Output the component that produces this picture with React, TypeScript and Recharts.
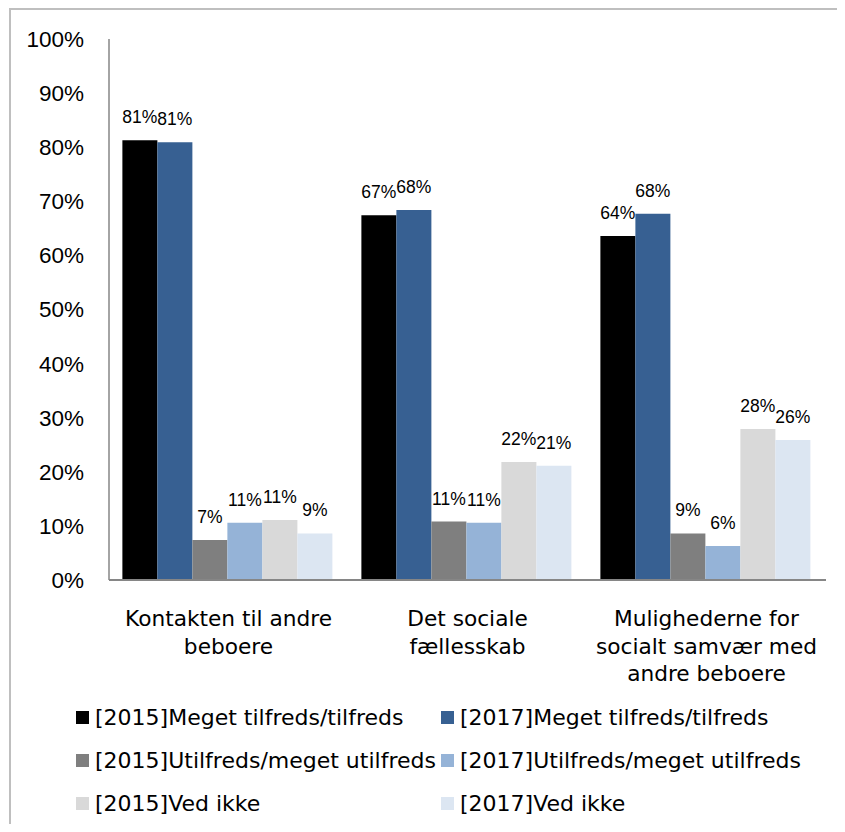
import { Bar, BarChart, LabelList, XAxis, YAxis } from "recharts"

const categories = [
  "Kontakten til andre\nbeboere",
  "Det sociale\nfællesskab",
  "Mulighederne for\nsocialt samvær med\nandre beboere",
]
const meget2015 = [81.3, 67.4, 63.6]
const meget2017 = [80.9, 68.4, 67.7]
const util2015 = [7.4, 10.8, 8.6]
const util2017 = [10.6, 10.6, 6.3]
const vedIkke2015 = [11.1, 21.8, 27.9]
const vedIkke2017 = [8.6, 21.1, 25.9]
const yTicks = [0, 10, 20, 30, 40, 50, 60, 70, 80, 90, 100]

const series = [
  { key: "m15", name: "[2015]Meget tilfreds/tilfreds", values: meget2015, color: "#000000" },
  { key: "m17", name: "[2017]Meget tilfreds/tilfreds", values: meget2017, color: "#376092" },
  { key: "u15", name: "[2015]Utilfreds/meget utilfreds", values: util2015, color: "#7F7F7F" },
  { key: "u17", name: "[2017]Utilfreds/meget utilfreds", values: util2017, color: "#95B3D7" },
  { key: "v15", name: "[2015]Ved ikke", values: vedIkke2015, color: "#D9D9D9" },
  { key: "v17", name: "[2017]Ved ikke", values: vedIkke2017, color: "#DCE6F2" },
]

const data = categories.map((c, i) => {
  const row: Record<string, string | number> = { category: c }
  series.forEach((s) => (row[s.key] = s.values[i]))
  return row
})

const axisColor = "#868686"
const textFont = "'DejaVu Sans', sans-serif"
const numFont = "'Liberation Sans', Arial, sans-serif"

function CategoryTick(props: any) {
  const { x, y, payload } = props
  const lines = String(payload.value).split("\n")
  return (
    <text x={x} y={y + 38} textAnchor="middle" fontFamily={textFont} fontSize={21.7} fill="#000">
      {lines.map((l, i) => (
        <tspan key={i} x={x} dy={i === 0 ? 0 : 27.5}>
          {l}
        </tspan>
      ))}
    </text>
  )
}

export default function App() {
  return (
    <div style={{ position: "relative", width: 837, height: 816 }}>
      <style>{`html, body { overflow: hidden; }`}</style>
      <div
        style={{
          position: "absolute",
          left: 1,
          top: 0,
          width: 836,
          height: 816,
          borderTop: "2px solid #BFBFBF",
          borderLeft: "2px solid #BFBFBF",
          boxSizing: "border-box",
        }}
      />
      <div style={{ position: "absolute", left: 0, top: 0 }}>
        <BarChart
          width={837}
          height={690}
          data={data}
          margin={{ top: 31, right: 19, left: 0, bottom: 0 }}
          barCategoryGap="5.6%"
          barGap={0}
        >
          <XAxis
            dataKey="category"
            height={118}
            tickLine={false}
            axisLine={{ stroke: axisColor, strokeWidth: 2 }}
            tick={<CategoryTick />}
            interval={0}
          />
          <YAxis
            width={101}
            domain={[0, 100]}
            ticks={yTicks}
            tickFormatter={(v) => `${v}%`}
            tickLine={false}
            tickSize={0}
            tickMargin={25}
            axisLine={{ stroke: axisColor, strokeWidth: 1.5 }}
            tick={{ fill: "#000", fontSize: 22.5, fontFamily: numFont }}
          />
          {series.map((s) => (
            <Bar key={s.key} dataKey={s.key} name={s.name} fill={s.color} isAnimationActive={false}>
              <LabelList
                dataKey={s.key}
                position="top"
                offset={17}
                formatter={(v: any) => `${Math.round(Number(v))}%`}
                style={{ fill: "#000", fontSize: 17.5, fontFamily: numFont }}
              />
            </Bar>
          ))}
        </BarChart>
      </div>
      <div
        style={{
          position: "absolute",
          left: 68,
          top: 688,
          display: "grid",
          gridTemplateColumns: "365px 380px",
          rowGap: 0,
          fontFamily: textFont,
          fontSize: 22,
          color: "#000",
        }}
      >
        {series.map((s) => (
          <div key={s.key} style={{ display: "flex", alignItems: "center", height: 43, whiteSpace: "nowrap" }}>
            <span style={{ width: 13, height: 13, background: s.color, marginRight: 6, flexShrink: 0 }} />
            <span>{s.name}</span>
          </div>
        ))}
      </div>
    </div>
  )
}
